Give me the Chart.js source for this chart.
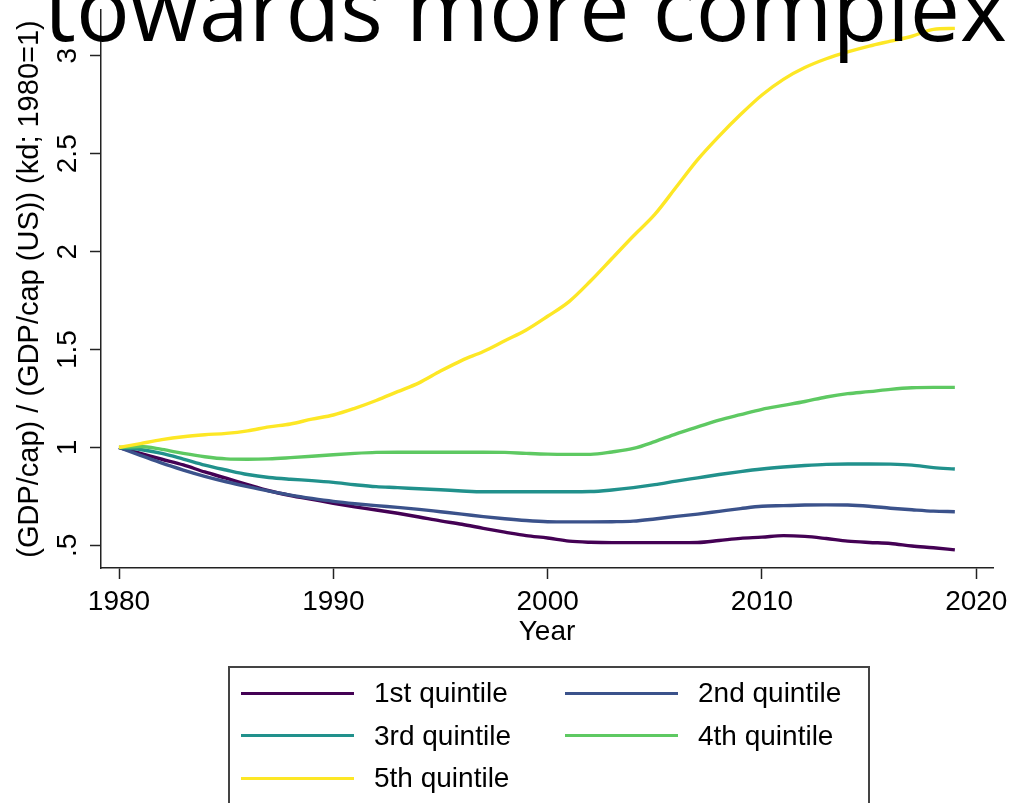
<!DOCTYPE html>
<html>
<head>
<meta charset="utf-8">
<script src="https://cdn.jsdelivr.net/npm/chart.js@4.4.1/dist/chart.umd.min.js"></script>
<style>
  html, body { margin: 0; padding: 0; background: #fff; overflow: hidden; }
  #wrap { position: relative; width: 1012px; height: 803px; }
  #legend {
    position: absolute; left: 228px; top: 666px; width: 642px; height: 180px;
    border: 2px solid #444; box-sizing: border-box;
    font-family: "Liberation Sans", Arial, sans-serif; font-size: 28px; color: #000;
  }
  .item { position: absolute; height: 40px; display: flex; align-items: center; white-space: nowrap; }
  .item .swatch { display: inline-block; width: 113px; height: 3px; margin-right: 20px; }
</style>
</head>
<body>
<div id="wrap">
  <canvas id="myChart" width="1012" height="803"></canvas>
  <div id="legend"></div>
</div>
<script>
let headline = "towards more complex";
let yTitle = "(GDP/cap) / (GDP/cap (US)) (kd; 1980=1)";
let xTitle = "Year";

let years = [];
for (let y = 1980; y <= 2019; y++) years.push(y);

let xTicks = [1980, 1990, 2000, 2010, 2020];
let yTicks = [0.5, 1, 1.5, 2, 2.5, 3];
let yTickLabels = [".5", "1", "1.5", "2", "2.5", "3"];

let names = ["1st quintile", "2nd quintile", "3rd quintile", "4th quintile", "5th quintile"];
let colors = ["#440154", "#3b528b", "#21918c", "#5ec962", "#fde725"];

let q1 = [1.000, 0.970, 0.940, 0.911, 0.875, 0.843, 0.810, 0.779, 0.755, 0.735,
          0.715, 0.697, 0.681, 0.664, 0.645, 0.625, 0.608, 0.587, 0.568, 0.550,
          0.538, 0.522, 0.516, 0.514, 0.514, 0.514, 0.514, 0.515, 0.525, 0.536,
          0.542, 0.550, 0.546, 0.535, 0.522, 0.515, 0.510, 0.497, 0.488, 0.477];
let q2 = [1.000, 0.960, 0.920, 0.885, 0.853, 0.825, 0.800, 0.777, 0.757, 0.740,
          0.725, 0.713, 0.703, 0.694, 0.684, 0.672, 0.660, 0.647, 0.636, 0.627,
          0.621, 0.620, 0.620, 0.621, 0.624, 0.635, 0.648, 0.660, 0.674, 0.688,
          0.700, 0.703, 0.706, 0.707, 0.706, 0.700, 0.690, 0.682, 0.675, 0.672];
let q3 = [1.000, 0.990, 0.970, 0.941, 0.910, 0.885, 0.862, 0.847, 0.838, 0.831,
          0.822, 0.810, 0.800, 0.795, 0.789, 0.784, 0.778, 0.774, 0.774, 0.774,
          0.774, 0.774, 0.775, 0.783, 0.795, 0.810, 0.828, 0.845, 0.862, 0.877,
          0.890, 0.900, 0.908, 0.914, 0.916, 0.916, 0.915, 0.910, 0.897, 0.890];
let q4 = [1.000, 1.005, 0.990, 0.970, 0.953, 0.942, 0.940, 0.942, 0.948, 0.955,
          0.963, 0.970, 0.975, 0.976, 0.976, 0.976, 0.976, 0.976, 0.975, 0.970,
          0.966, 0.965, 0.965, 0.977, 0.995, 1.030, 1.070, 1.105, 1.140, 1.168,
          1.195, 1.215, 1.235, 1.258, 1.275, 1.285, 1.297, 1.305, 1.307, 1.307];
let q5 = [1.000, 1.020, 1.040, 1.055, 1.065, 1.072, 1.085, 1.105, 1.120, 1.145,
          1.166, 1.200, 1.240, 1.285, 1.330, 1.390, 1.445, 1.490, 1.545, 1.600,
          1.670, 1.745, 1.850, 1.965, 2.080, 2.190, 2.330, 2.470, 2.590, 2.700,
          2.800, 2.880, 2.940, 2.985, 3.020, 3.050, 3.075, 3.100, 3.135, 3.140];
let series = [q1, q2, q3, q4, q5];

const font = "'Liberation Sans', Arial, sans-serif";
const ink = "#222";

// big heading, partly above the top edge
const headlinePlugin = {
  id: "headline",
  afterDraw(chart) {
    const ctx = chart.ctx;
    ctx.save();
    ctx.font = "89.5px 'Open Sans'";
    ctx.fillStyle = "#000";
    ctx.textBaseline = "alphabetic";
    ctx.fillText(headline, 44, 41);
    ctx.restore();
  }
};

// boxed legend in two columns, built from the datasets
const htmlLegend = {
  id: "htmlLegend",
  afterUpdate(chart) {
    const box = document.getElementById("legend");
    box.innerHTML = "";
    chart.data.datasets.forEach((ds, i) => {
      const item = document.createElement("div");
      item.className = "item";
      item.style.left = (11 + (i % 2) * 324) + "px";
      item.style.top = (5 + Math.floor(i / 2) * 42.5) + "px";
      const sw = document.createElement("span");
      sw.className = "swatch";
      sw.style.background = ds.borderColor;
      item.appendChild(sw);
      item.appendChild(document.createTextNode(ds.label));
      box.appendChild(item);
    });
  }
};

const ctx = document.getElementById("myChart").getContext("2d");
const myChart = new Chart(ctx, {
  type: "line",
  data: {
    datasets: series.map((vals, i) => ({
      label: names[i],
      data: vals.map((v, j) => ({ x: years[j], y: v })),
      borderColor: colors[i],
      backgroundColor: colors[i],
      borderWidth: 3.4,
      pointRadius: 0,
      cubicInterpolationMode: "monotone",
      order: 4 - i
    }))
  },
  options: {
    responsive: false,
    animation: false,
    layout: { padding: { left: 0, top: 10, right: 19, bottom: 154 } },
    plugins: {
      legend: { display: false },
      tooltip: { enabled: false }
    },
    scales: {
      x: {
        type: "linear",
        min: 1979.16,
        max: 2020.78,
        afterBuildTicks: (scale) => { scale.ticks = xTicks.map(v => ({ value: v })); },
        afterFit: (scale) => { scale.height = 81; scale.paddingLeft = 0; scale.paddingRight = 0; },
        border: { display: true, color: ink, width: 1.5 },
        grid: { display: true, drawOnChartArea: false, drawTicks: true, tickLength: 11, tickColor: ink, tickWidth: 1.5 },
        ticks: { color: "#000", font: { family: font, size: 28 }, padding: 6, maxRotation: 0,
                 callback: (v) => String(v) },
        title: { display: true, text: xTitle, color: "#000", font: { family: font, size: 28 },
                 padding: { top: 0, bottom: 0 } }
      },
      y: {
        type: "linear",
        min: 0.3846,
        max: 3.234,
        afterBuildTicks: (scale) => { scale.ticks = yTicks.map(v => ({ value: v })); },
        afterFit: (scale) => { scale.width = 101; scale.paddingTop = 0; scale.paddingBottom = 0; },
        border: { display: true, color: ink, width: 1.5 },
        grid: { display: true, drawOnChartArea: false, drawTicks: true, tickLength: 11, tickColor: ink, tickWidth: 1.5 },
        ticks: { color: "#000", font: { family: font, size: 28 }, padding: 2.5,
                 minRotation: 90, maxRotation: 90, crossAlign: "center",
                 callback: (v) => yTickLabels[yTicks.indexOf(v)] },
        title: { display: true, text: yTitle, color: "#000", font: { family: font, size: 29 },
                 padding: { top: 13, bottom: 0 } }
      }
    }
  },
  plugins: [headlinePlugin, htmlLegend]
});
</script>
</body>
</html>
